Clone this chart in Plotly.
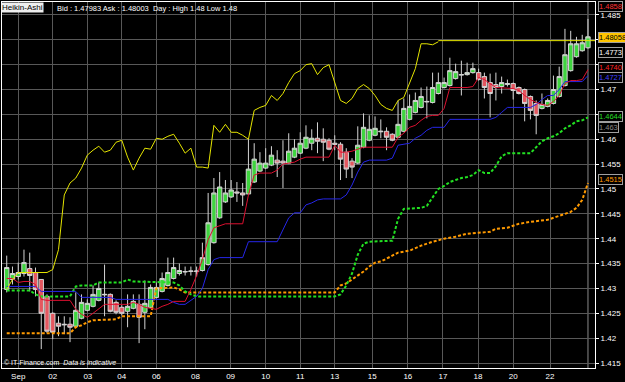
import plotly.graph_objects as go

# ---------------- data (Heikin-Ashi 4h bars) ----------------
opens = [
    1.4298, 1.4318, 1.4324, 1.4330, 1.4340, 1.4332, 1.4318, 1.4284, 1.4250, 1.4230,
    1.4228, 1.4228, 1.4224, 1.4240, 1.4256, 1.4264, 1.4276, 1.4287, 1.4288, 1.4272,
    1.4262, 1.4254, 1.4260, 1.4268, 1.4252, 1.4262, 1.4282, 1.4294, 1.4306, 1.4320,
    1.4330, 1.4333, 1.4334, 1.4334, 1.4336, 1.4348, 1.4392, 1.4442, 1.4474, 1.4484,
    1.4494, 1.4492, 1.4490, 1.4514, 1.4536, 1.4542, 1.4548, 1.4558, 1.4556, 1.4552,
    1.4564, 1.4572, 1.4582, 1.4592, 1.4602, 1.4600, 1.4598, 1.4592, 1.4590, 1.4574,
    1.4556, 1.4552, 1.4584, 1.4598, 1.4608, 1.4615, 1.4616, 1.4610, 1.4604, 1.4616,
    1.4640, 1.4654, 1.4664, 1.4675, 1.4674, 1.4692, 1.4704, 1.4708, 1.4722, 1.4729,
    1.4730, 1.4734, 1.4734, 1.4726, 1.4714, 1.4710, 1.4706, 1.4710, 1.4712, 1.4704,
    1.4700, 1.4686, 1.4672, 1.4662, 1.4666, 1.4672, 1.4686, 1.4708, 1.4738, 1.4766,
    1.4778, 1.4784]
closes = [
    1.4342, 1.4330, 1.4332, 1.4352, 1.4326, 1.4298, 1.4250, 1.4214, 1.4212, 1.4224,
    1.4227, 1.4222, 1.4256, 1.4272, 1.4270, 1.4288, 1.4300, 1.4288, 1.4254, 1.4252,
    1.4250, 1.4264, 1.4274, 1.4242, 1.4270, 1.4302, 1.4302, 1.4320, 1.4332, 1.4342,
    1.4336, 1.4334, 1.4335, 1.4335, 1.4362, 1.4432, 1.4492, 1.4504, 1.4492, 1.4498,
    1.4492, 1.4488, 1.4540, 1.4560, 1.4552, 1.4552, 1.4568, 1.4552, 1.4552, 1.4576,
    1.4582, 1.4592, 1.4604, 1.4602, 1.4596, 1.4594, 1.4580, 1.4590, 1.4560, 1.4540,
    1.4544, 1.4588, 1.4624, 1.4620, 1.4622, 1.4616, 1.4604, 1.4598, 1.4630, 1.4662,
    1.4666, 1.4678, 1.4686, 1.4676, 1.4704, 1.4714, 1.4714, 1.4738, 1.4736, 1.4730,
    1.4734, 1.4742, 1.4720, 1.4704, 1.4692, 1.4704, 1.4714, 1.4712, 1.4698, 1.4692,
    1.4672, 1.4658, 1.4648, 1.4670, 1.4678, 1.4700, 1.4726, 1.4770, 1.4792, 1.4792,
    1.4794, 1.4806]
highs = [
    1.4366, 1.4344, 1.4352, 1.4378, 1.4372, 1.4342, 1.4318, 1.4288, 1.4252, 1.4244,
    1.4244, 1.4242, 1.4292, 1.4288, 1.4278, 1.4306, 1.4312, 1.4348, 1.4290, 1.4276,
    1.4266, 1.4288, 1.4288, 1.4288, 1.4316, 1.4308, 1.4312, 1.4332, 1.4362, 1.4362,
    1.4350, 1.4344, 1.4344, 1.4344, 1.4392, 1.4492, 1.4522, 1.4534, 1.4518, 1.4518,
    1.4514, 1.4512, 1.4600, 1.4592, 1.4574, 1.4582, 1.4586, 1.4578, 1.4598, 1.4612,
    1.4600, 1.4614, 1.4628, 1.4620, 1.4634, 1.4622, 1.4602, 1.4608, 1.4594, 1.4582,
    1.4562, 1.4626, 1.4652, 1.4648, 1.4646, 1.4640, 1.4624, 1.4612, 1.4678, 1.4682,
    1.4690, 1.4694, 1.4704, 1.4706, 1.4734, 1.4734, 1.4724, 1.4764, 1.4752, 1.4758,
    1.4754, 1.4754, 1.4742, 1.4734, 1.4732, 1.4734, 1.4726, 1.4720, 1.4714, 1.4706,
    1.4702, 1.4688, 1.4678, 1.4692, 1.4682, 1.4728, 1.4746, 1.4822, 1.4818, 1.4806,
    1.4810, 1.4842]
lows = [
    1.4292, 1.4308, 1.4318, 1.4324, 1.4294, 1.4284, 1.4178, 1.4210, 1.4198, 1.4204,
    1.4208, 1.4192, 1.4222, 1.4238, 1.4254, 1.4262, 1.4274, 1.4244, 1.4252, 1.4248,
    1.4246, 1.4222, 1.4258, 1.4190, 1.4218, 1.4260, 1.4280, 1.4292, 1.4304, 1.4318,
    1.4326, 1.4326, 1.4326, 1.4324, 1.4334, 1.4346, 1.4390, 1.4440, 1.4472, 1.4482,
    1.4474, 1.4466, 1.4488, 1.4512, 1.4534, 1.4540, 1.4546, 1.4524, 1.4502, 1.4550,
    1.4562, 1.4570, 1.4580, 1.4578, 1.4572, 1.4556, 1.4578, 1.4578, 1.4518, 1.4522,
    1.4522, 1.4550, 1.4582, 1.4596, 1.4606, 1.4602, 1.4578, 1.4596, 1.4602, 1.4614,
    1.4638, 1.4652, 1.4662, 1.4642, 1.4672, 1.4690, 1.4702, 1.4706, 1.4720, 1.4688,
    1.4728, 1.4732, 1.4718, 1.4682, 1.4644, 1.4678, 1.4692, 1.4706, 1.4680, 1.4690,
    1.4636, 1.4640, 1.4610, 1.4660, 1.4664, 1.4670, 1.4684, 1.4706, 1.4736, 1.4764,
    1.4776, 1.4782]

# Ichimoku lines (bar index, price)
tenkan_bar = [0, 1, 2, 3, 4, 5, 6, 7, 11, 12, 13, 14, 15, 16, 17, 21, 22, 23, 24, 25,
              26, 27, 28, 29, 31, 32, 33, 34, 35, 36, 37, 38, 41, 42, 43, 44, 46, 47, 48, 49,
              50, 51, 52, 55, 56, 57, 58, 59, 60, 61, 62, 67, 68, 69, 70, 71, 72, 73, 74, 75,
              76, 77, 80, 81, 82, 83, 84, 85, 88, 89, 90, 91, 92, 93, 94, 95, 96, 97, 98, 99,
              100, 101]
tenkan_val = [1.4320, 1.4320, 1.4312, 1.4314, 1.4314, 1.4308, 1.4278, 1.4276, 1.4276, 1.4258,
              1.4248, 1.4242, 1.4250, 1.4260, 1.4268, 1.4268, 1.4272, 1.4268, 1.4262, 1.4260,
              1.4258, 1.4264, 1.4268, 1.4274, 1.4274, 1.4298, 1.4326, 1.4358, 1.4398, 1.4422,
              1.4426, 1.4430, 1.4430, 1.4488, 1.4528, 1.4532, 1.4532, 1.4538, 1.4550, 1.4552,
              1.4554, 1.4560, 1.4564, 1.4564, 1.4564, 1.4588, 1.4574, 1.4574, 1.4576, 1.4580,
              1.4584, 1.4584, 1.4604, 1.4612, 1.4624, 1.4628, 1.4638, 1.4646, 1.4648, 1.4648,
              1.4662, 1.4704, 1.4704, 1.4706, 1.4724, 1.4720, 1.4712, 1.4704, 1.4702, 1.4698,
              1.4688, 1.4680, 1.4674, 1.4670, 1.4668, 1.4676, 1.4688, 1.4712, 1.4718, 1.4718,
              1.4720, 1.4740]

kijun_bar = [0, 5, 6, 12, 13, 18, 19, 28, 29, 30, 31, 32, 33, 34, 35, 36, 37, 41, 42, 47,
             48, 49, 50, 51, 52, 53, 54, 55, 58, 59, 60, 61, 62, 63, 66, 67, 68, 70, 71, 72,
             73, 74, 76, 77, 84, 85, 86, 87, 91, 92, 93, 94, 95, 96, 97, 100, 101]
kijun_val = [1.4304, 1.4304, 1.4294, 1.4294, 1.4282, 1.4282, 1.4278, 1.4278, 1.4272, 1.4268,
             1.4268, 1.4276, 1.4284, 1.4300, 1.4338, 1.4358, 1.4362, 1.4362, 1.4394, 1.4394,
             1.4418, 1.4442, 1.4452, 1.4452, 1.4468, 1.4472, 1.4478, 1.4480, 1.4480, 1.4488,
             1.4508, 1.4534, 1.4554, 1.4558, 1.4558, 1.4562, 1.4588, 1.4592, 1.4602, 1.4608,
             1.4618, 1.4624, 1.4624, 1.4640, 1.4640, 1.4644, 1.4654, 1.4664, 1.4664, 1.4670,
             1.4680, 1.4688, 1.4688, 1.4700, 1.4716, 1.4716, 1.4728]

span_a_bar = [0, 4, 5, 6, 11, 12, 13, 15, 16, 20, 21, 22, 29, 30, 31, 32, 33, 57, 58, 59,
              60, 61, 62, 63, 67, 68, 69, 72, 73, 74, 75, 76, 77, 78, 79, 80, 81, 82, 83, 84,
              85, 86, 87, 91, 92, 93, 94, 95, 96, 97, 98, 99, 100, 101]
span_a_val = [1.4296, 1.4296, 1.4288, 1.4284, 1.4284, 1.4304, 1.4306, 1.4306, 1.4312, 1.4312,
              1.4318, 1.4314, 1.4312, 1.4306, 1.4294, 1.4288, 1.4284, 1.4284, 1.4288, 1.4306,
              1.4330, 1.4368, 1.4390, 1.4394, 1.4396, 1.4440, 1.4460, 1.4462, 1.4466, 1.4484,
              1.4500, 1.4506, 1.4514, 1.4518, 1.4522, 1.4524, 1.4528, 1.4538, 1.4532, 1.4532,
              1.4546, 1.4566, 1.4572, 1.4572, 1.4584, 1.4596, 1.4602, 1.4606, 1.4612, 1.4622,
              1.4628, 1.4636, 1.4638, 1.4644]

span_b_bar = [0, 11, 12, 13, 14, 15, 19, 20, 25, 26, 29, 30, 31, 57, 58, 59, 60, 61, 62, 63,
              64, 65, 67, 68, 70, 72, 74, 76, 78, 80, 82, 84, 85, 87, 89, 91, 94, 96, 97, 98,
              99, 100, 101]
span_b_val = [1.4210, 1.4210, 1.4222, 1.4226, 1.4232, 1.4236, 1.4238, 1.4244, 1.4244, 1.4300,
              1.4302, 1.4298, 1.4292, 1.4292, 1.4306, 1.4310, 1.4318, 1.4326, 1.4334, 1.4344,
              1.4352, 1.4354, 1.4366, 1.4372, 1.4376, 1.4386, 1.4394, 1.4400, 1.4404, 1.4410,
              1.4412, 1.4414, 1.4420, 1.4422, 1.4430, 1.4434, 1.4438, 1.4446, 1.4450, 1.4454,
              1.4462, 1.4478, 1.4512]

chikou_val = [
    1.4298, 1.4318, 1.4332, 1.4332, 1.4332, 1.4332, 1.4332, 1.4332, 1.4338, 1.4378,
    1.4488, 1.4512, 1.4522, 1.4542, 1.4568, 1.4578, 1.4586, 1.4574, 1.4578, 1.4594,
    1.4598, 1.4564, 1.4538, 1.4562, 1.4582, 1.4580, 1.4602, 1.4600, 1.4606, 1.4610,
    1.4592, 1.4572, 1.4582, 1.4544, 1.4544, 1.4542, 1.4628, 1.4614, 1.4630, 1.4614,
    1.4614, 1.4608, 1.4600, 1.4658, 1.4664, 1.4668, 1.4688, 1.4678, 1.4692, 1.4714,
    1.4732, 1.4738, 1.4750, 1.4752, 1.4730, 1.4744, 1.4750, 1.4714, 1.4678, 1.4672,
    1.4682, 1.4702, 1.4710, 1.4702, 1.4688, 1.4670, 1.4662, 1.4658, 1.4678, 1.4684,
    1.4714, 1.4742, 1.4792, 1.4792, 1.4790, 1.4796]

bid = 1.47983
date_labels = ["Sep", "02", "03", "04", "06", "08", "09", "10", "11", "13", "15", "16",
               "17", "18", "20", "22"]
date_bar = [2.0, 8.0, 14.1, 20.0, 26.0, 32.8, 38.9, 45.0, 51.0, 57.0, 63.5, 69.7,
            75.8, 81.9, 88.0, 94.4]
ytick_vals = [1.415, 1.42, 1.425, 1.43, 1.435, 1.44, 1.445, 1.45, 1.455,
              1.46, 1.465, 1.47, 1.475, 1.48, 1.485]
# labels hidden behind the value tags in the reference are left blank
ytick_text = ["1.415", "1.42", "1.425", "1.43", "1.435", "1.44", "1.445", "1.45", "1.455",
              "1.46", "", "1.47", "", "", "1.485"]

tags = [  # (text, level, text colour, background)
    ("1.4858", 1.4866, "#ff3030", "black"),
    ("1.48058", 1.4805, "black", "#ffc400"),
    ("1.4773", 1.4774, "white", "black"),
    ("1.4740", 1.4745, "#ff2020", "black"),
    ("1.4727", 1.4725, "#4040ff", "black"),
    ("1.463", 1.4623, "#888888", "black"),
    ("1.4644", 1.4645, "#22dd22", "black"),
    ("1.4515", 1.4519, "#ff9900", "black"),
]

# ---------------- figure ----------------
bars = list(range(len(opens)))
FONT = "Liberation Sans, Arial, sans-serif"

fig = go.Figure()
fig.add_trace(go.Candlestick(
    x=bars, open=opens, high=highs, low=lows, close=closes,
    increasing=dict(line=dict(color="#d4d4d4", width=1), fillcolor="#3fd43f"),
    decreasing=dict(line=dict(color="#d4d4d4", width=1), fillcolor="#e4575f"),
    whiskerwidth=0, hoverinfo="skip", showlegend=False))

fig.add_trace(go.Scatter(x=span_b_bar, y=span_b_val, mode="lines",
                         line=dict(color="#ff9a00", width=2, dash="3px,2px"), hoverinfo="skip"))
fig.add_trace(go.Scatter(x=span_a_bar, y=span_a_val, mode="lines",
                         line=dict(color="#22e022", width=2, dash="3px,2px"), hoverinfo="skip"))
fig.add_trace(go.Scatter(x=kijun_bar, y=kijun_val, mode="lines",
                         line=dict(color="#2626e8", width=1), hoverinfo="skip"))
fig.add_trace(go.Scatter(x=tenkan_bar, y=tenkan_val, mode="lines",
                         line=dict(color="#dd1030", width=1), hoverinfo="skip"))
fig.add_trace(go.Scatter(x=list(range(len(chikou_val))), y=chikou_val, mode="lines",
                         line=dict(color="#e6e600", width=1), hoverinfo="skip"))

x_lo, x_hi = -0.82, 102.22
shapes = [
    dict(type="line", xref="x", yref="y", x0=len(chikou_val) - 1, x1=x_hi, y0=bid, y1=bid,
         line=dict(color="#e6e600", width=1), layer="above"),
    dict(type="line", xref="x", yref="paper", x0=bars[-1], x1=bars[-1], y0=0, y1=1,
         line=dict(color="#8a8a8a", width=1), layer="below"),
]

annotations = [
    dict(xref="paper", yref="paper", x=-0.002, y=1.0, xanchor="left", yanchor="top",
         text="Heikin-Ashi", showarrow=False, bgcolor="#eeeeee", borderpad=0,
         font=dict(family=FONT, size=8, color="black")),
    dict(xref="paper", yref="paper", x=0.089, y=1.0, xanchor="left", yanchor="top",
         text="Bid : 1.47983 Ask : 1.48003  Day : High 1.48 Low 1.48", showarrow=False,
         font=dict(family=FONT, size=7.5, color="white")),
    dict(xref="paper", yref="paper", x=0.0, y=0.014, xanchor="left", yanchor="middle",
         text="© IT-Finance.com  <i>Data is indicative</i>", showarrow=False,
         font=dict(family=FONT, size=7, color="white")),
]
for txt, lvl, col, bg in tags:
    annotations.append(dict(xref="paper", yref="y", x=1.0, y=lvl, xanchor="left",
                            yanchor="middle", xshift=3, text=txt, showarrow=False,
                            bgcolor=bg, bordercolor="#a0a0a0", borderwidth=1, borderpad=0,
                            font=dict(family=FONT, size=7.5, color=col)))

fig.update_layout(
    width=625, height=382, margin=dict(l=2, r=30, t=1, b=13),
    paper_bgcolor="black", plot_bgcolor="black", showlegend=False,
    boxgap=0.2, boxgroupgap=0.05,
    font=dict(family=FONT, size=8, color="white"),
    shapes=shapes, annotations=annotations,
    xaxis=dict(range=[x_lo, x_hi], rangeslider=dict(visible=False),
               tickmode="array", tickvals=date_bar, ticktext=date_labels,
               showgrid=True, gridcolor="#585858", gridwidth=1, zeroline=False,
               showline=True, linecolor="white", linewidth=1, mirror=True, ticks="",
               tickfont=dict(family=FONT, size=8, color="white")),
    yaxis=dict(side="right", range=[1.4140, 1.4876], tickmode="array",
               tickvals=ytick_vals, ticktext=ytick_text, showgrid=True,
               gridcolor="#585858", gridwidth=1, zeroline=False, showline=True,
               linecolor="white", linewidth=1, mirror=True, ticks="outside", ticklen=3,
               tickcolor="white", tickfont=dict(family=FONT, size=8, color="white")),
)

fig.write_html("out.html")
